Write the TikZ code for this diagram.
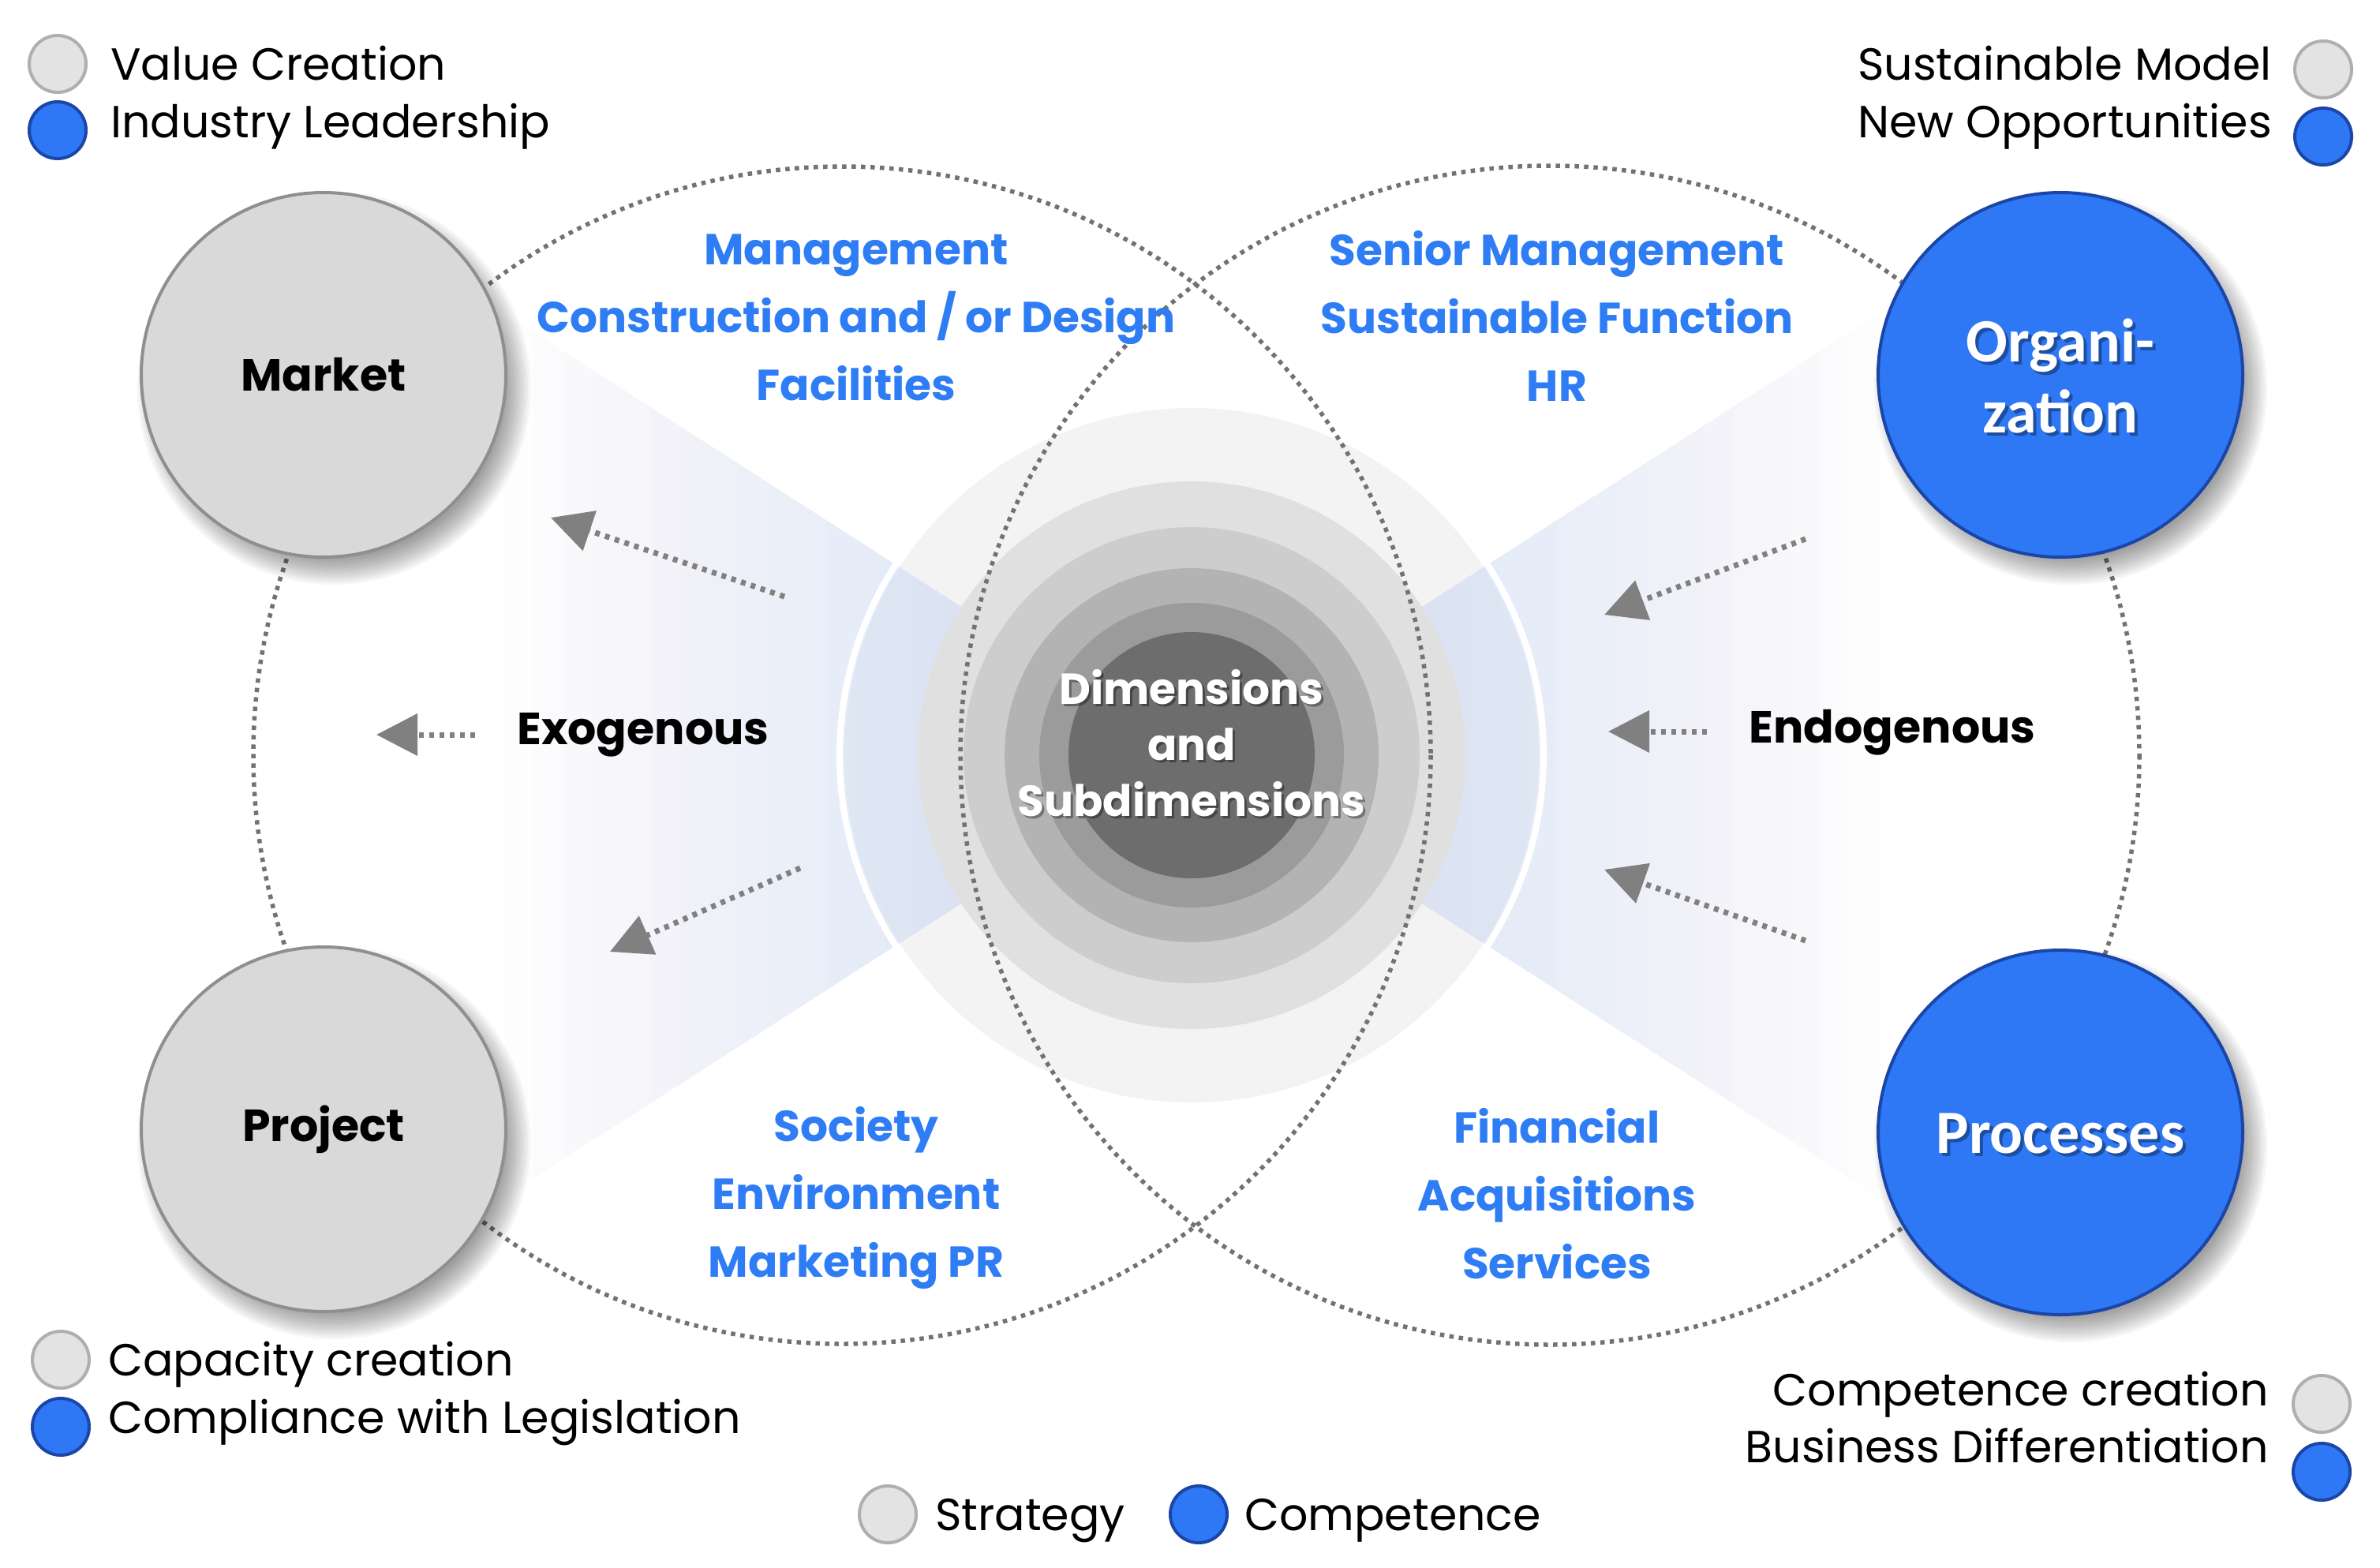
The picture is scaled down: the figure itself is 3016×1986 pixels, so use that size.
\documentclass[tikz,border=0pt]{standalone}
\usepackage{fontspec}
\setmainfont{Poppins}
\newfontfamily\calib{Carlito}
\usetikzlibrary{arrows.meta}
\definecolor{bluefill}{HTML}{2E78F5}
\definecolor{blueedge}{HTML}{1B46A8}
\definecolor{bluetext}{HTML}{2F7DF5}
\definecolor{grayfill}{HTML}{D9D9D9}
\definecolor{grayedge}{HTML}{8F8F8F}
\definecolor{legedge}{HTML}{AFAFAF}
\definecolor{legfill}{HTML}{E3E3E3}
\definecolor{dotgray}{HTML}{727272}
\definecolor{arrgray}{HTML}{808080}
\definecolor{wedgeblue}{HTML}{C8D8F8}
\definecolor{ringA}{HTML}{F3F3F3}
\definecolor{ringB}{HTML}{E0E0E0}
\definecolor{ringC}{HTML}{CDCDCD}
\definecolor{ringD}{HTML}{B3B3B3}
\definecolor{ringE}{HTML}{9B9B9B}
\definecolor{ringF}{HTML}{6D6D6D}
\newcommand{\softshadow}[3]{%
  \foreach \k in {0,...,11}{\fill[black,opacity=0.035] (#1+13,#2+17) circle[radius=#3+18-3*\k];}}
\tikzset{
  bigcirc/.style={circle, minimum size=462pt, inner sep=0pt, line width=4pt},
  graybig/.style={bigcirc, fill=grayfill, draw=grayedge},
  bluebig/.style={bigcirc, fill=bluefill, draw=blueedge},
  legcirc/.style={circle, minimum size=72pt, inner sep=0pt, line width=4pt},
  leggray/.style={legcirc, fill=legfill, draw=legedge},
  legblue/.style={legcirc, fill=bluefill, draw=blueedge},
  legtext/.style={inner sep=0pt, text height=40pt, text depth=0pt, font=\fontsize{57}{68}\selectfont},
  bluelab/.style={align=center, inner sep=0pt, text=bluetext, font=\fontsize{55}{86}\selectfont\bfseries},
  blacklab/.style={inner sep=0pt, font=\fontsize{57}{68}\selectfont\bfseries},
  dotcirc/.style={draw=dotgray, line width=5.5pt, dash pattern=on 5.5pt off 6.5pt},
  dotarrow/.style={draw=arrgray, line width=7pt, dash pattern=on 6pt off 7pt,
    -{Triangle[length=52pt,width=52pt,fill=arrgray]}},
  wedgelayer/.style={fill=wedgeblue, opacity=0.034},
}
\begin{document}
\begin{tikzpicture}[x=1pt,y=-1pt]
\useasboundingbox (0,0) rectangle (3016,1986);
\fill[white] (0,0) rectangle (3016,1986);
% central rings and wedges
\coordinate (C) at (1510,957);
\fill[ringA] (C) circle[radius=440];
\foreach \i in {0,...,19}{
  \pgfmathsetmacro\xe{640+\i*37}
  \pgfmathsetmacro\ya{957-0.643*(1510-\xe)}
  \pgfmathsetmacro\yb{957+0.643*(1510-\xe)}
  \pgfmathsetmacro\xr{3020-\xe}
  \fill[wedgelayer] (C) -- (\xe,\ya) -- (\xe,\yb) -- cycle;
  \fill[wedgelayer] (C) -- (\xr,\ya) -- (\xr,\yb) -- cycle;
}
\draw[white, line width=8pt] (C) circle[radius=446];
\fill[ringB] (C) circle[radius=347];
\fill[ringC] (C) circle[radius=289];
\fill[ringD] (C) circle[radius=237];
\fill[ringE] (C) circle[radius=193];
\fill[ringF] (C) circle[radius=156];
% dotted circles
\draw[dotcirc] (1067,957) circle[radius=746];
\draw[dotcirc] (1964,957) circle[radius=747];
% big circles
\softshadow{410}{475}{231}
\softshadow{410}{1431}{231}
\softshadow{2611}{475}{231}
\softshadow{2611}{1435}{231}
\node[graybig] (market) at (410,475) {};
\node[graybig] (project) at (410,1431) {};
\node[bluebig] (org) at (2611,475) {};
\node[bluebig] (proc) at (2611,1435) {};
\node[blacklab] at (market) {Market};
\node[blacklab] at (project) {Project};
\node[align=center, inner sep=0pt, text=black, opacity=0.35, font=\fontsize{78}{90}\selectfont\calib\bfseries] at (2615,480) {Organi-\\zation};
\node[align=center, inner sep=0pt, text=white, font=\fontsize{78}{90}\selectfont\calib\bfseries] (orgtxt) at (2611,476) {Organi-\\zation};
\node[inner sep=0pt, text=black, opacity=0.35, font=\fontsize{78}{90}\selectfont\calib\bfseries] at (2615,1440) {Processes};
\node[inner sep=0pt, text=white, font=\fontsize{78}{90}\selectfont\calib\bfseries] (proctxt) at (2611,1436) {Processes};
% centre text
\node[align=center, inner sep=0pt, text=black, opacity=0.35, font=\fontsize{55}{71}\selectfont\bfseries] at (1513,945) {Dimensions\\and\\Subdimensions};
\node[align=center, inner sep=0pt, text=white, font=\fontsize{55}{71}\selectfont\bfseries] (dims) at (1510,942) {Dimensions\\and\\Subdimensions};
% blue labels
\node[bluelab] (tl) at (1085,402) {Management\\Construction and / or Design\\Facilities};
\node[bluelab] (tr) at (1973,400) {Senior Management\\Sustainable Function\\HR};
\node[bluelab] (bl) at (1085,1518) {Society\\Environment\\Marketing PR};
\node[bluelab] (br) at (1973,1513) {Financial\\Acquisitions\\Services};
% exo / endo
\node[blacklab] (exo) at (815,931) {Exogenous};
\node[blacklab] (endo) at (2398,928) {Endogenous};
% arrows
\coordinate (a1s) at (994,756); \coordinate (a1e) at (698,656);
\coordinate (a2s) at (602,931); \coordinate (a2e) at (477,931);
\coordinate (a3s) at (1014,1100); \coordinate (a3e) at (773,1206);
\coordinate (b1s) at (2288,683); \coordinate (b1e) at (2033,779);
\coordinate (b2s) at (2163,927); \coordinate (b2e) at (2038,927);
\coordinate (b3s) at (2288,1192); \coordinate (b3e) at (2033,1102);
\draw[dotarrow] (a1s) -- (a1e);
\draw[dotarrow] (a2s) -- (a2e);
\draw[dotarrow] (a3s) -- (a3e);
\draw[dotarrow] (b1s) -- (b1e);
\draw[dotarrow] (b2s) -- (b2e);
\draw[dotarrow] (b3s) -- (b3e);
% legends top left
\node[leggray] (lg1) at (73,81) {};
\node[legblue] (lg2) at (73,165) {};
\node[legtext, anchor=west] (lt1) at (140,81) {Value Creation};
\node[legtext, anchor=west] (lt2) at (140,154) {Industry Leadership};
% legends top right
\node[leggray] (lg3) at (2944,88) {};
\node[legblue] (lg4) at (2944,173) {};
\node[legtext, anchor=east] (lt3) at (2879,81) {Sustainable Model};
\node[legtext, anchor=east] (lt4) at (2879,154) {New Opportunities};
% legends bottom left
\node[leggray] (lg5) at (77,1723) {};
\node[legblue] (lg6) at (77,1808) {};
\node[legtext, anchor=west] (lt5) at (137,1723) {Capacity creation};
\node[legtext, anchor=west] (lt6) at (137,1796) {Compliance with Legislation};
% legends bottom right
\node[leggray] (lg7) at (2942,1779) {};
\node[legblue] (lg8) at (2942,1865) {};
\node[legtext, anchor=east] (lt7) at (2875,1761) {Competence creation};
\node[legtext, anchor=east] (lt8) at (2875,1833) {Business Differentiation};
% bottom centre legend
\node[leggray] (lg9) at (1125,1919) {};
\node[legblue] (lg10) at (1519,1919) {};
\node[legtext, anchor=west] (lt9) at (1185,1919) {Strategy};
\node[legtext, anchor=west] (lt10) at (1577,1919) {Competence};
\end{tikzpicture}
\end{document}
